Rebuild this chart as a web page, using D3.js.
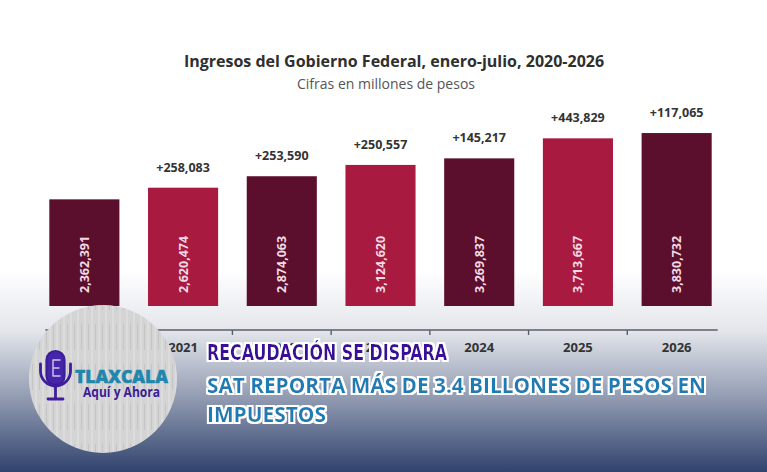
<!DOCTYPE html>
<html>
<head>
<meta charset="utf-8">
<script src="https://cdn.jsdelivr.net/npm/d3@7"></script>
<style>
  html, body { margin: 0; padding: 0; background: #fff; }
  svg { display: block; }
</style>
</head>
<body>
<div id="chart"></div>
<script>
const width = 767;
const height = 472;

const years = ["2020", "2021", "2022", "2023", "2024", "2025", "2026"];
const values = [2362391, 2620474, 2874063, 3124620, 3269837, 3713667, 3830732];
const deltas = [null, 258083, 253590, 250557, 145217, 443829, 117065];
const barColors = ["#5b0f2c", "#a91a40"];

const title = "Ingresos del Gobierno Federal, enero-julio, 2020-2026";
const subtitle = "Cifras en millones de pesos";
const headline = "RECAUDACIÓN SE DISPARA";
const subhead = ["SAT REPORTA MÁS DE 3.4 BILLONES DE PESOS EN", "IMPUESTOS"];

const data = years.map((year, i) => ({ year, value: values[i], delta: deltas[i], i }));

const fmt = d3.format(",");

const x = d3.scaleBand()
  .domain(years)
  .range([35, 726])
  .paddingInner(0.29)
  .paddingOuter(0.145);

const y = d3.scaleLinear()
  .domain([0, 4000000])
  .range([306, 125.4]);

const svg = d3.select("#chart").append("svg")
  .attr("width", width)
  .attr("height", height)
  .attr("viewBox", [0, 0, width, height]);

const defs = svg.append("defs");

// fondo: blanco arriba, azul marino abajo
const grad = defs.append("linearGradient")
  .attr("id", "bg")
  .attr("x1", 0).attr("y1", 0).attr("x2", 0).attr("y2", 1);
[[0, 0], [0.3, 0.13], [0.62, 0.5], [1, 0.97]].forEach(([o, a]) => {
  grad.append("stop")
    .attr("offset", o)
    .attr("stop-color", "#2a3d69")
    .attr("stop-opacity", a);
});

// textura de la madera del logo
const pat = defs.append("pattern")
  .attr("id", "wood")
  .attr("patternUnits", "userSpaceOnUse")
  .attr("width", 7).attr("height", 40);
pat.append("rect").attr("width", 7).attr("height", 40).attr("fill", "#d4d4d4");
pat.append("line").attr("x1", 1).attr("x2", 1).attr("y1", 0).attr("y2", 40)
  .attr("stroke", "#e4e4e4").attr("stroke-width", 1);
pat.append("line").attr("x1", 4.5).attr("x2", 4.5).attr("y1", 4).attr("y2", 30)
  .attr("stroke", "#bbbbbb").attr("stroke-width", 0.6);

// contorno blanco + trazo engrosado para los titulares
const outline = defs.append("filter")
  .attr("id", "outline")
  .attr("x", "-5%").attr("y", "-30%")
  .attr("width", "110%").attr("height", "160%");
outline.append("feMorphology")
  .attr("in", "SourceAlpha").attr("operator", "dilate").attr("radius", 2.2)
  .attr("result", "outer");
outline.append("feFlood").attr("flood-color", "#fff").attr("result", "white");
outline.append("feComposite")
  .attr("in", "white").attr("in2", "outer").attr("operator", "in")
  .attr("result", "ring");
outline.append("feMorphology")
  .attr("in", "SourceGraphic").attr("operator", "dilate").attr("radius", 0.45)
  .attr("result", "thick");
const merge = outline.append("feMerge");
merge.append("feMergeNode").attr("in", "ring");
merge.append("feMergeNode").attr("in", "thick");

svg.append("rect").attr("width", width).attr("height", height).attr("fill", "#fff");
svg.append("rect")
  .attr("x", 0).attr("y", 270)
  .attr("width", width).attr("height", height - 270)
  .attr("fill", "url(#bg)");

// titulos
svg.append("text")
  .attr("x", 394).attr("y", 67)
  .attr("text-anchor", "middle")
  .attr("font-family", "Open Sans")
  .attr("font-weight", 700)
  .attr("font-size", 16)
  .attr("fill", "#2f2f2f")
  .text(title);

svg.append("text")
  .attr("x", 386).attr("y", 89)
  .attr("text-anchor", "middle")
  .attr("font-family", "Open Sans")
  .attr("font-size", 14)
  .attr("fill", "#555")
  .text(subtitle);

// barras
const bars = svg.append("g");

bars.selectAll("rect")
  .data(data)
  .join("rect")
  .attr("x", d => x(d.year))
  .attr("y", d => y(d.value))
  .attr("width", x.bandwidth())
  .attr("height", d => y(0) - y(d.value))
  .attr("fill", d => barColors[d.i % 2]);

bars.selectAll("text.val")
  .data(data)
  .join("text")
  .attr("class", "val")
  .attr("transform", d => `translate(${x(d.year) + x.bandwidth() / 2 + 4.5},293) rotate(-90)`)
  .attr("font-family", "Open Sans")
  .attr("font-weight", 700)
  .attr("font-size", 12.5)
  .attr("fill", "#f2dbe3")
  .text(d => fmt(d.value));

bars.selectAll("text.delta")
  .data(data.filter(d => d.delta != null))
  .join("text")
  .attr("class", "delta")
  .attr("x", d => x(d.year) + x.bandwidth() / 2)
  .attr("y", d => y(d.value) - 16)
  .attr("text-anchor", "middle")
  .attr("font-family", "Open Sans")
  .attr("font-weight", 700)
  .attr("font-size", 12.5)
  .attr("fill", "#333")
  .text(d => "+" + fmt(d.delta));

// eje x
const axis = svg.append("g");
const step = x.step();
axis.append("line")
  .attr("x1", x(years[0]) - 4)
  .attr("x2", x(years[years.length - 1]) + x.bandwidth() + 6)
  .attr("y1", 330).attr("y2", 330)
  .attr("stroke", "#5a5f6a")
  .attr("stroke-width", 1.6);

axis.selectAll("line.tick")
  .data(years.slice(0, -1))
  .join("line")
  .attr("class", "tick")
  .attr("x1", d => x(d) + x.bandwidth() + (step - x.bandwidth()) / 2)
  .attr("x2", d => x(d) + x.bandwidth() + (step - x.bandwidth()) / 2)
  .attr("y1", 330).attr("y2", 335)
  .attr("stroke", "#5a5f6a")
  .attr("stroke-width", 1.4);

axis.selectAll("text")
  .data(years)
  .join("text")
  .attr("x", d => x(d) + x.bandwidth() / 2)
  .attr("y", 352)
  .attr("text-anchor", "middle")
  .attr("font-family", "Open Sans")
  .attr("font-weight", 700)
  .attr("font-size", 13)
  .attr("fill", "#333")
  .text(d => d);

// logo
const logo = svg.append("g");
logo.append("circle")
  .attr("cx", 103).attr("cy", 379).attr("r", 74)
  .attr("fill", "url(#wood)");

const mic = logo.append("g")
  .attr("fill", "none")
  .attr("stroke", "#3d1d9a")
  .attr("stroke-linecap", "round");
mic.append("rect")
  .attr("x", 46.5).attr("y", 351).attr("width", 18).attr("height", 34).attr("rx", 9)
  .attr("fill", "#4526a8").attr("stroke-width", 2.2);
mic.append("path")
  .attr("d", "M53,360H60M53,368H59M53,376H60M53,360V376")
  .attr("stroke", "#cfc6f2").attr("stroke-width", 1.4);
mic.append("path")
  .attr("d", "M40.5,364v7a15,15 0 0 0 30,0v-7")
  .attr("stroke-width", 2.8);
mic.append("path")
  .attr("d", "M55.5,386V398M48,399H63")
  .attr("stroke-width", 2.8);

logo.append("text")
  .attr("x", 75).attr("y", 383)
  .attr("textLength", 93).attr("lengthAdjust", "spacingAndGlyphs")
  .attr("font-family", "Open Sans")
  .attr("font-weight", 800)
  .attr("font-size", 18)
  .attr("fill", "#1f86ad")
  .attr("stroke", "#1f86ad")
  .attr("stroke-width", 0.5)
  .text("TLAXCALA");

logo.append("text")
  .attr("x", 83).attr("y", 397)
  .attr("textLength", 77).attr("lengthAdjust", "spacingAndGlyphs")
  .attr("font-family", "Open Sans")
  .attr("font-weight", 700)
  .attr("font-size", 13.5)
  .attr("fill", "#3a1c96")
  .text("Aquí y Ahora");

// titulares
const heads = svg.append("g")
  .attr("filter", "url(#outline)")
  .attr("font-weight", 700)
  .attr("font-size", 22);

heads.append("text")
  .attr("x", 207).attr("y", 360)
  .attr("textLength", 240).attr("lengthAdjust", "spacingAndGlyphs")
  .attr("font-family", "DejaVu Sans Condensed, DejaVu Sans")
  .attr("fill", "#3a0f98")
  .text(headline);

heads.selectAll("text.sub")
  .data(subhead)
  .join("text")
  .attr("class", "sub")
  .attr("x", 207)
  .attr("y", (d, i) => 393 + i * 29)
  .attr("textLength", (d, i) => i === 0 ? 499 : 119)
  .attr("lengthAdjust", "spacingAndGlyphs")
  .attr("font-family", "Open Sans")
  .attr("fill", "#1b7db4")
  .text(d => d);
</script>
</body>
</html>
